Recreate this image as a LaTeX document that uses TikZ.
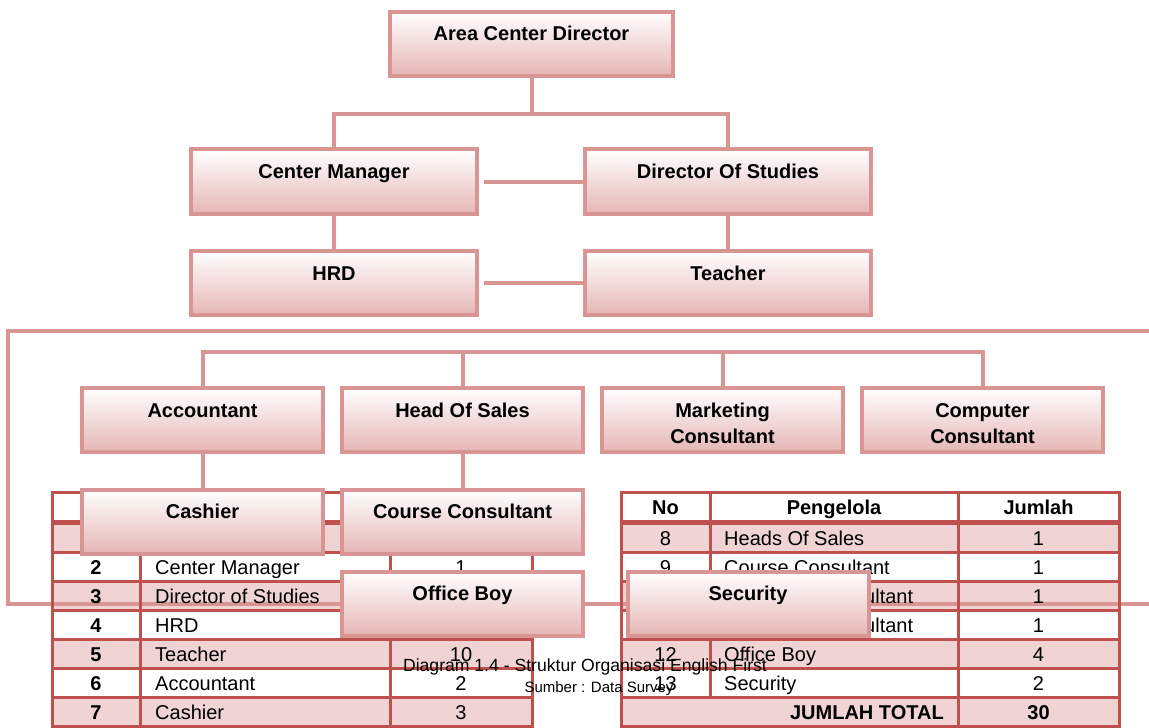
\documentclass[tikz,border=0pt]{standalone}
\usepackage{fontspec}
\setmainfont{Liberation Sans}
\usepackage{xcolor}
\usepackage{tikz}

\definecolor{boxline}{RGB}{217,149,148}
\definecolor{boxbottom}{RGB}{229,182,181}
\definecolor{tabline}{RGB}{192,80,77}
\definecolor{tabpink}{RGB}{240,211,211}

\begin{document}
\begin{tikzpicture}[x=1pt,y=-1pt]
\tikzstyle{jabatan}=[draw=boxline,line width=4pt,top color=white,bottom color=boxbottom,minimum width=241pt,minimum height=64pt,inner sep=0pt,font=\fontsize{20pt}{24pt}\selectfont\bfseries,text height=15pt,text depth=21pt];
\tikzstyle{jabatan2}=[jabatan,text height=20pt,text depth=0pt];
\tikzstyle{garis}=[draw=boxline,line width=4pt];
\tikzstyle{tepi}=[draw=tabline,line width=3pt];
\tikzstyle{sel}=[inner sep=0pt,font=\fontsize{20pt}{24pt}\selectfont];
\tikzstyle{selb}=[inner sep=0pt,font=\fontsize{20pt}{24pt}\selectfont\bfseries];

\fill[white] (0,0) rectangle (1149,728);
\useasboundingbox (0,0) rectangle (1149,728);

% pink rows of both tables
\fill[tabpink] (52,522.5) rectangle (532,552.5);
\fill[tabpink] (52,581.5) rectangle (532,610.5);
\fill[tabpink] (52,639.5) rectangle (532,668.5);
\fill[tabpink] (52,697.5) rectangle (532,726.5);
\fill[tabpink] (621,522.5) rectangle (1119,552.5);
\fill[tabpink] (621,581.5) rectangle (1119,610.5);
\fill[tabpink] (621,639.5) rectangle (1119,668.5);
\fill[tabpink] (621,697.5) rectangle (1119,726.5);

% outer line round the staff
\coordinate (bingkaiTR) at (1149,331);
\coordinate (bingkaiTL) at (8,331);
\coordinate (bingkaiBL) at (8,604);
\coordinate (bingkaiBR) at (1149,604);
\path[draw] [garis] (bingkaiTR) -- (bingkaiTL) -- (bingkaiBL) -- (bingkaiBR);

% left table
\draw[tepi] (52,492.5) rectangle (532,726.5);
\draw[tepi,line width=5pt] (52,522.5) -- (532,522.5);
\draw[tepi] (52,552.5) -- (532,552.5);
\draw[tepi] (52,581.5) -- (532,581.5);
\draw[tepi] (52,610.5) -- (532,610.5);
\draw[tepi] (52,639.5) -- (532,639.5);
\draw[tepi] (52,668.5) -- (532,668.5);
\draw[tepi] (52,697.5) -- (532,697.5);
\draw[tepi] (140,492.5) -- (140,726.5);
\draw[tepi] (390,492.5) -- (390,726.5);

% right table
\draw[tepi] (621,492.5) rectangle (1119,726.5);
\draw[tepi,line width=5pt] (621,522.5) -- (1119,522.5);
\draw[tepi] (621,552.5) -- (1119,552.5);
\draw[tepi] (621,581.5) -- (1119,581.5);
\draw[tepi] (621,610.5) -- (1119,610.5);
\draw[tepi] (621,639.5) -- (1119,639.5);
\draw[tepi] (621,668.5) -- (1119,668.5);
\draw[tepi] (621,697.5) -- (1119,697.5);
\draw[tepi] (710,492.5) -- (710,697.5);
\draw[tepi] (958,492.5) -- (958,726.5);

\node[selb,anchor=base] (l-no2) at (96,574) {2};
\node[sel,anchor=base west] (l-nama2) at (155,574) {Center Manager};
\node[sel,anchor=base] (l-jml2) at (461,574) {1};
\node[selb,anchor=base] (l-no3) at (96,603) {3};
\node[sel,anchor=base west] (l-nama3) at (155,603) {Director of Studies};
\node[selb,anchor=base] (l-no4) at (96,632) {4};
\node[sel,anchor=base west] (l-nama4) at (155,632) {HRD};
\node[selb,anchor=base] (l-no5) at (96,661) {5};
\node[sel,anchor=base west] (l-nama5) at (155,661) {Teacher};
\node[sel,anchor=base] (l-jml5) at (461,661) {10};
\node[selb,anchor=base] (l-no6) at (96,690) {6};
\node[sel,anchor=base west] (l-nama6) at (155,690) {Accountant};
\node[sel,anchor=base] (l-jml6) at (461,690) {2};
\node[selb,anchor=base] (l-no7) at (96,719) {7};
\node[sel,anchor=base west] (l-nama7) at (155,719) {Cashier};
\node[sel,anchor=base] (l-jml7) at (461,719) {3};

\node[selb,anchor=base] (r-no0) at (665.5,514.5) {No};
\node[selb,anchor=base] (r-nama0) at (834,514.5) {Pengelola};
\node[selb,anchor=base] (r-jml0) at (1038.5,514.5) {Jumlah};
\node[sel,anchor=base] (r-no8) at (665.5,545) {8};
\node[sel,anchor=base west] (r-nama8) at (724,545) {Heads Of Sales};
\node[sel,anchor=base] (r-jml8) at (1038.5,545) {1};
\node[sel,anchor=base] (r-no9) at (665.5,574) {9};
\node[sel,anchor=base west] (r-nama9) at (724,574) {Course Consultant};
\node[sel,anchor=base] (r-jml9) at (1038.5,574) {1};
\node[sel,anchor=base west] (r-nama10) at (724,603) {Marketing Consultant};
\node[sel,anchor=base] (r-jml10) at (1038.5,603) {1};
\node[sel,anchor=base west] (r-nama11) at (724,632) {Computer Consultant};
\node[sel,anchor=base] (r-jml11) at (1038.5,632) {1};
\node[sel,anchor=base] (r-no12) at (665.5,661) {12};
\node[sel,anchor=base west] (r-nama12) at (724,661) {Office Boy};
\node[sel,anchor=base] (r-jml12) at (1038.5,661) {4};
\node[sel,anchor=base] (r-no13) at (665.5,690) {13};
\node[sel,anchor=base west] (r-nama13) at (724,690) {Security};
\node[sel,anchor=base] (r-jml13) at (1038.5,690) {2};
\node[selb,anchor=base east] (r-total) at (944,719) {JUMLAH TOTAL};
\node[selb,anchor=base] (r-jmltotal) at (1038.5,719) {30};

% boxes of the chart
\node[jabatan,minimum width=283pt] (acd) at (531.5,43.5) {Area Center Director};
\node[jabatan,minimum width=286pt,minimum height=65pt] (cm) at (334,181.5) {Center Manager};
\node[jabatan,minimum width=286pt,minimum height=65pt] (dos) at (728,181.5) {Director Of Studies};
\node[jabatan,minimum width=286pt] (hrd) at (334,283) {HRD};
\node[jabatan,minimum width=286pt] (tch) at (728,283) {Teacher};
\node[jabatan] (acc) at (202.5,420) {Accountant};
\node[jabatan] (hos) at (462.5,420) {Head Of Sales};
\node[jabatan2] (mkc) at (722.5,420) {\fontsize{20pt}{26pt}\selectfont\begin{tabular}{@{}c@{}}Marketing\\Consultant\end{tabular}};
\node[jabatan2] (cpc) at (982.5,420) {\fontsize{20pt}{26pt}\selectfont\begin{tabular}{@{}c@{}}Computer\\Consultant\end{tabular}};
\node[jabatan] (csh) at (202.5,521.5) {Cashier};
\node[jabatan] (csc) at (462.5,521.5) {Course Consultant};
\node[jabatan] (ob) at (462.5,603.5) {Office Boy};
\node[jabatan] (sec) at (748,603.5) {Security};

\path[draw] [garis] (acd.south) -- ++(0,36) coordinate (palang1) -| (cm.north);
\path[draw] [garis] (palang1) -| (dos.north);
\path[draw] [garis] (cm.south) -- (hrd.north);
\path[draw] [garis] (dos.south) -- (tch.north);
\path[draw] [garis,shorten <=5pt] (cm.east) -- (dos.west);
\path[draw] [garis,shorten <=5pt] (hrd.east) -- (tch.west);
\path[draw] [garis] (acc.north) -- ++(0,-34) coordinate (palang2) -| (cpc.north);
\path[draw] [garis] (hos.north) -- (hos.north |- palang2);
\path[draw] [garis] (mkc.north) -- (mkc.north |- palang2);
\path[draw] [garis] (acc.south) -- (csh.north);
\path[draw] [garis] (hos.south) -- (csc.north);

% caption
\node[inner sep=0pt,anchor=base,font=\fontsize{17.6pt}{21pt}\selectfont] (judul) at (585,671) {Diagram 1.4 - Struktur Organisasi English First};
\node[inner sep=0pt,anchor=base,font=\fontsize{15pt}{18pt}\selectfont] (sumber) at (599,692) {Sumber : Data Survey};
\end{tikzpicture}
\end{document}
